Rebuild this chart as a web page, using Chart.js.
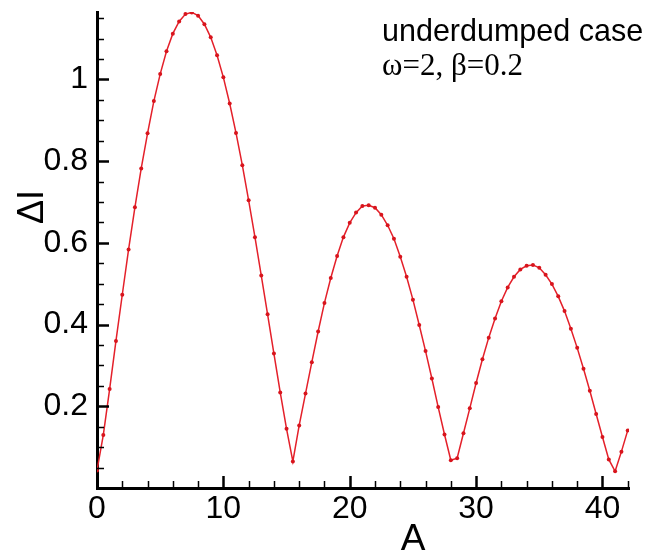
<!DOCTYPE html>
<html>
<head>
<meta charset="utf-8">
<script src="https://cdn.jsdelivr.net/npm/chart.js@4.4.1/dist/chart.umd.min.js"></script>
<style>
  html, body { margin: 0; padding: 0; background: #fff; }
  #wrap { width: 654px; height: 552px; }
</style>
</head>
<body>
<div id="wrap"><canvas id="responseChart" width="654" height="552"></canvas></div>
<script>
// Amplitude A (x) and the response ΔI (y)
const aValues = [
  0, 0.5, 1, 1.5, 2, 2.5, 3, 3.5, 4, 4.5,
  5, 5.5, 6, 6.5, 7, 7.5, 8, 8.5, 9, 9.5,
  10, 10.5, 11, 11.5, 12, 12.5, 13, 13.5, 14, 14.5,
  15, 15.5, 16, 16.5, 17, 17.5, 18, 18.5, 19, 19.5,
  20, 20.5, 21, 21.5, 22, 22.5, 23, 23.5, 24, 24.5,
  25, 25.5, 26, 26.5, 27, 27.5, 28, 28.5, 29, 29.5,
  30, 30.5, 31, 31.5, 32, 32.5, 33, 33.5, 34, 34.5,
  35, 35.5, 36, 36.5, 37, 37.5, 38, 38.5, 39, 39.5,
  40, 40.5, 41, 41.5, 42
];
const deltaI = [
  0.043, 0.130, 0.242, 0.360, 0.473, 0.584, 0.687, 0.782, 0.868, 0.947,
  1.013, 1.069, 1.112, 1.142, 1.160, 1.164, 1.156, 1.135, 1.103, 1.059,
  1.005, 0.941, 0.869, 0.790, 0.704, 0.614, 0.520, 0.425, 0.329, 0.234,
  0.145, 0.065, 0.153, 0.231, 0.308, 0.383, 0.453, 0.514, 0.568, 0.614,
  0.649, 0.674, 0.690, 0.692, 0.686, 0.669, 0.643, 0.610, 0.566, 0.517,
  0.461, 0.399, 0.335, 0.268, 0.198, 0.131, 0.068, 0.073, 0.134, 0.195,
  0.257, 0.315, 0.368, 0.415, 0.457, 0.491, 0.517, 0.535, 0.544, 0.546,
  0.539, 0.522, 0.499, 0.469, 0.433, 0.390, 0.343, 0.292, 0.238, 0.181,
  0.125, 0.070, 0.041, 0.089, 0.141
];
const xTickLabels = [0, 10, 20, 30, 40];
const yTickLabels = [0.2, 0.4, 0.6, 0.8, 1];
const noteLines = ['underdumped case', 'ω=2, β=0.2'];

const SANS = '"Liberation Sans", Arial, sans-serif';
const SERIF = '"Liberation Serif", "Times New Roman", serif';

function isLabelled(value, list) {
  return list.some(v => Math.abs(v - value) < 1e-6);
}

// tick marks pointing into the plot, long on labelled ticks
const innerTicks = {
  id: 'innerTicks',
  afterDraw(chart) {
    const { ctx, chartArea, scales: { x, y } } = chart;
    ctx.save();
    ctx.strokeStyle = '#000';
    x.ticks.forEach(t => {
      if (t.value === 0) return;
      const major = isLabelled(t.value, xTickLabels);
      const px = Math.round(x.getPixelForValue(t.value)) + 0.5;
      ctx.lineWidth = major ? 2.5 : 1.5;
      ctx.beginPath();
      ctx.moveTo(px, chartArea.bottom);
      ctx.lineTo(px, chartArea.bottom - (major ? 12 : 7));
      ctx.stroke();
    });
    y.ticks.forEach(t => {
      if (t.value === 0) return;
      const major = isLabelled(t.value, yTickLabels);
      const py = Math.round(y.getPixelForValue(t.value)) + 0.5;
      ctx.lineWidth = major ? 2.5 : 1.5;
      ctx.beginPath();
      ctx.moveTo(chartArea.left, py);
      ctx.lineTo(chartArea.left + (major ? 12 : 7), py);
      ctx.stroke();
    });
    ctx.restore();
  }
};

// axis titles and the note in the upper right corner
const textLayer = {
  id: 'textLayer',
  afterDraw(chart) {
    const { ctx } = chart;
    ctx.save();
    ctx.fillStyle = '#000';
    ctx.textBaseline = 'alphabetic';

    ctx.font = `37px ${SANS}`;
    ctx.textAlign = 'center';
    ctx.fillText('A', 413, 550);

    ctx.save();
    ctx.translate(43, 207);
    ctx.rotate(-Math.PI / 2);
    ctx.font = `36px ${SANS}`;
    ctx.fillText('ΔI', 0, 0);
    ctx.restore();

    ctx.textAlign = 'left';
    ctx.font = `30.5px ${SANS}`;
    ctx.fillText(noteLines[0], 382, 41);
    ctx.font = `31px ${SERIF}`;
    ctx.fillText(noteLines[1], 382, 75);
    ctx.restore();
  }
};

document.addEventListener('DOMContentLoaded', () => {
  const points = aValues.map((a, i) => ({ x: a, y: deltaI[i] }));
  const ctx = document.getElementById('responseChart').getContext('2d');

  new Chart(ctx, {
    type: 'line',
    data: {
      datasets: [{
        data: points,
        borderColor: '#e4202a',
        borderWidth: 1.5,
        backgroundColor: '#d8141c',
        pointRadius: 2,
        pointBorderWidth: 0,
        pointBackgroundColor: '#d8141c',
        tension: 0,
        fill: false
      }]
    },
    options: {
      responsive: false,
      animation: false,
      layout: { padding: { top: 12, right: 25, bottom: 0, left: 0 } },
      plugins: {
        legend: { display: false },
        tooltip: { enabled: false }
      },
      scales: {
        x: {
          type: 'linear',
          min: 0,
          max: 42.1,
          afterFit: scale => {
            scale.height = 64;
            scale.paddingLeft = 0;
            scale.paddingRight = 0;
          },
          grid: { display: false, drawTicks: false },
          border: { display: true, color: '#000', width: 3 },
          ticks: {
            stepSize: 2,
            includeBounds: false,
            autoSkip: false,
            maxRotation: 0,
            padding: 5,
            color: '#000',
            font: { family: SANS, size: 32, lineHeight: 1 },
            callback: v => isLabelled(v, xTickLabels) ? String(v) : ''
          }
        },
        y: {
          min: 0,
          max: 1.165,
          afterFit: scale => {
            scale.width = 97;
            scale.paddingTop = 0;
            scale.paddingBottom = 0;
          },
          grid: { display: false, drawTicks: false },
          border: { display: true, color: '#000', width: 3 },
          ticks: {
            stepSize: 0.05,
            includeBounds: false,
            autoSkip: false,
            padding: 9,
            color: '#000',
            font: { family: SANS, size: 32, lineHeight: 1 },
            callback: v => isLabelled(v, yTickLabels) ? String(+v.toFixed(1)) : ''
          }
        }
      }
    },
    plugins: [innerTicks, textLayer]
  });
});
</script>
</body>
</html>
